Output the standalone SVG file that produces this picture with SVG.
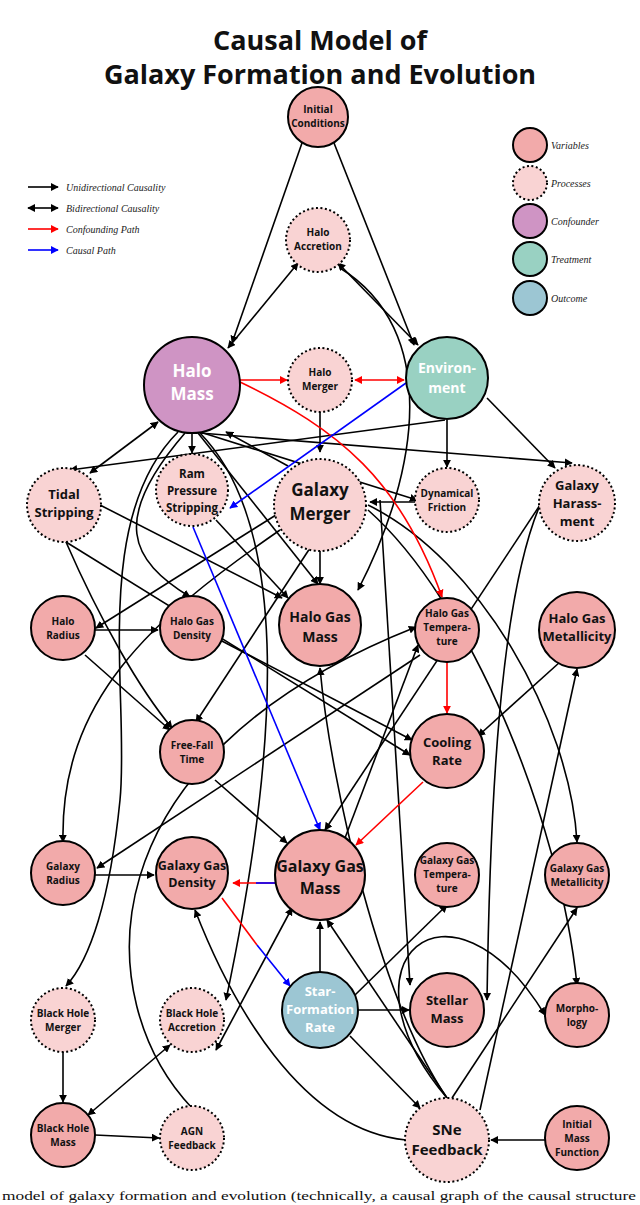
<svg xmlns="http://www.w3.org/2000/svg" width="640" height="1205" viewBox="0 0 640 1205">
<style>
.t{font-family:"Open Sans","Liberation Sans",sans-serif;font-weight:bold;text-anchor:middle;fill:#111}
.w{fill:#fff}
.v{fill:#f2aaaa;stroke:#000;stroke-width:2}
.p{fill:#f9d3d3;stroke:#000;stroke-width:2;stroke-dasharray:2 2.5}
.e{fill:none;stroke:#000;stroke-width:1.6;marker-end:url(#ak)}
.b{marker-start:url(#aks)}
.r{fill:none;stroke:#f00;stroke-width:1.6;marker-end:url(#ar)}
.u{fill:none;stroke:#00f;stroke-width:1.6;marker-end:url(#au)}
.lg{font-family:"Liberation Serif",serif;font-style:italic;font-size:10px;fill:#222}
</style>
<defs>
<marker id="ak" viewBox="0 0 10 10" refX="9" refY="5" markerWidth="5" markerHeight="5" orient="auto"><path d="M0,0L10,5L0,10z"/></marker>
<marker id="aks" viewBox="0 0 10 10" refX="1" refY="5" markerWidth="5" markerHeight="5" orient="auto"><path d="M10,0L0,5L10,10z"/></marker>
<marker id="ar" viewBox="0 0 10 10" refX="9" refY="5" markerWidth="5" markerHeight="5" orient="auto"><path d="M0,0L10,5L0,10z" fill="#f00"/></marker>
<marker id="ars" viewBox="0 0 10 10" refX="1" refY="5" markerWidth="5" markerHeight="5" orient="auto"><path d="M10,0L0,5L10,10z" fill="#f00"/></marker>
<marker id="au" viewBox="0 0 10 10" refX="9" refY="5" markerWidth="5" markerHeight="5" orient="auto"><path d="M0,0L10,5L0,10z" fill="#00f"/></marker>
</defs>
<rect width="640" height="1205" fill="#fff"/>
<text class="t" x="320" y="50" font-size="27">Causal Model of</text>
<text class="t" x="320" y="84" font-size="27">Galaxy Formation and Evolution</text>
<g id="legend">
<line x1="28" y1="187" x2="58" y2="187" class="e" stroke-width="1.2"/>
<line x1="28" y1="208" x2="58" y2="208" class="e b" stroke-width="1.2"/>
<line x1="28" y1="229" x2="58" y2="229" class="r" stroke-width="1.2"/>
<line x1="28" y1="250" x2="58" y2="250" class="u" stroke-width="1.2"/>
<text class="lg" x="66" y="191">Unidirectional Causality</text>
<text class="lg" x="66" y="212">Bidirectional Causality</text>
<text class="lg" x="66" y="233">Confounding Path</text>
<text class="lg" x="66" y="254">Causal Path</text>
<circle cx="530" cy="145" r="17" class="v"/>
<circle cx="530" cy="183" r="17" class="p"/>
<circle cx="530" cy="221" r="17" fill="#cf94c4" stroke="#000" stroke-width="2"/>
<circle cx="530" cy="259" r="17" fill="#99d1c2" stroke="#000" stroke-width="2"/>
<circle cx="530" cy="298" r="17" fill="#9cc6d3" stroke="#000" stroke-width="2"/>
<text class="lg" x="551" y="149">Variables</text>
<text class="lg" x="551" y="187">Processes</text>
<text class="lg" x="551" y="225">Confounder</text>
<text class="lg" x="551" y="263">Treatment</text>
<text class="lg" x="551" y="302">Outcome</text>
</g>
<g id="connectors">
<line class="e" x1="302" y1="143" x2="232" y2="343"/>
<line class="e" x1="334" y1="143" x2="414" y2="345"/>
<line class="e b" x1="298" y1="263" x2="228" y2="348"/>
<line class="e b" x1="338" y1="263" x2="418" y2="345"/>
<path class="e" d="M340,268 C440,330 420,470 358,590"/>
<line class="e b" x1="158" y1="422" x2="90" y2="473"/>
<line class="e" x1="445" y1="420" x2="70" y2="470"/>
<line class="e" x1="200" y1="433" x2="572" y2="463"/>
<line class="e" x1="192" y1="433" x2="192" y2="453"/>
<line class="e" x1="200" y1="432" x2="417" y2="500"/>
<line class="e" x1="447" y1="420" x2="447" y2="467"/>
<line class="e" x1="487" y1="398" x2="555" y2="468"/>
<line class="e" x1="320" y1="412" x2="320" y2="452"/>
<line class="e" x1="288" y1="466" x2="226" y2="432"/>
<line class="e" x1="415" y1="502" x2="370" y2="502"/>
<line class="e" x1="198" y1="433" x2="318" y2="584"/>
<path class="e" d="M200,433 C285,520 285,720 226,1000"/>
<path class="e" d="M185,433 C110,520 130,560 190,597"/>
<line class="e" x1="100" y1="505" x2="282" y2="598"/>
<path class="e" d="M66,542 C100,620 140,690 172,728"/>
<line class="e" x1="66" y1="542" x2="410" y2="755"/>
<line class="e" x1="216" y1="520" x2="288" y2="598"/>
<line class="e" x1="320" y1="547" x2="320" y2="584"/>
<line class="e" x1="276" y1="515" x2="96" y2="628"/>
<line class="e" x1="312" y1="545" x2="196" y2="722"/>
<path class="e" d="M368,505 C480,560 570,720 577,842"/>
<path class="e" d="M368,510 C470,600 560,820 577,985"/>
<path class="e" d="M540,505 C500,600 490,800 487,1000"/>
<line class="e" x1="95" y1="630" x2="158" y2="630"/>
<line class="e" x1="85" y1="655" x2="170" y2="730"/>
<line class="e" x1="540" y1="505" x2="325" y2="830"/>
<line class="e" x1="560" y1="662" x2="478" y2="736"/>
<line class="e" x1="220" y1="640" x2="412" y2="740"/>
<line class="e" x1="215" y1="780" x2="287" y2="843"/>
<line class="e" x1="95" y1="875" x2="154" y2="875"/>
<line class="e b" x1="216" y1="1050" x2="292" y2="908"/>
<line class="e" x1="320" y1="972" x2="320" y2="922"/>
<line class="e" x1="358" y1="1010" x2="409" y2="1010"/>
<line class="e" x1="350" y1="1036" x2="420" y2="1108"/>
<line class="e" x1="355" y1="995" x2="447" y2="905"/>
<line class="e" x1="447" y1="1098" x2="327" y2="920"/>
<path class="e" d="M406,1140 C300,1130 230,1000 195,910"/>
<path class="e" d="M447,1098 C380,1000 330,780 320,668"/>
<line class="e" x1="452" y1="1098" x2="577" y2="908"/>
<path class="e" d="M447,1098 C330,960 450,860 545,1015"/>
<line class="e" x1="480" y1="1110" x2="577" y2="669"/>
<line class="e" x1="545" y1="1140" x2="491" y2="1140"/>
<line class="e" x1="63" y1="1052" x2="63" y2="1102"/>
<line class="e b" x1="88" y1="1115" x2="170" y2="1045"/>
<line class="e" x1="95" y1="1135" x2="159" y2="1138"/>
<path class="e" d="M192,1108 C90,1000 80,760 416,627"/>
<path class="e" d="M178,432 C90,520 130,700 120,800 S90,960 66,986"/>
<path class="e" d="M280,530 C150,620 60,700 63,842"/>
<line class="e" x1="420" y1="655" x2="97" y2="868"/>
<line class="e" x1="380" y1="500" x2="410" y2="985"/>
<line class="e" x1="345" y1="838" x2="418" y2="645"/>
<path class="r" d="M240,380 L287,380"/>
<line class="r" x1="355" y1="380" x2="404" y2="380" marker-start="url(#ars)"/>
<path class="r" d="M240,382 C340,430 400,480 442,597"/>
<line class="r" x1="447" y1="662" x2="447" y2="713"/>
<line class="r" x1="423" y1="782" x2="356" y2="845"/>
<line class="r" x1="276" y1="883" x2="233" y2="883"/>
<line class="u" x1="406" y1="383" x2="230" y2="508"/>
<line class="u" x1="193" y1="527" x2="320" y2="830"/>
<line x1="276" y1="883" x2="256" y2="883" stroke="#00f" stroke-width="1.6"/>
<line x1="222" y1="898" x2="257" y2="945" stroke="#f00" stroke-width="1.6"/>
<line class="u" x1="257" y1="945" x2="290" y2="986"/>
</g>
<g id="n-ic"><circle cx="318" cy="117" r="30" class="v"/><text class="t" font-size="10" x="318" y="113">Initial</text><text class="t" font-size="10" x="318" y="127">Conditions</text></g>
<g id="n-ha"><circle cx="318" cy="240" r="32" class="p"/><text class="t" font-size="10" x="318" y="236">Halo</text><text class="t" font-size="10" x="318" y="250">Accretion</text></g>
<g id="n-hm"><circle cx="192" cy="385" r="48" fill="#cf94c4" stroke="#000" stroke-width="2"/><text class="t w" font-size="17" x="192" y="377">Halo</text><text class="t w" font-size="17" x="192" y="400">Mass</text></g>
<g id="n-hmg"><circle cx="320" cy="380" r="32" class="p"/><text class="t" font-size="10" x="320" y="376">Halo</text><text class="t" font-size="10" x="320" y="390">Merger</text></g>
<g id="n-env"><circle cx="447" cy="378" r="41" fill="#99d1c2" stroke="#000" stroke-width="2"/><text class="t w" font-size="14" x="447" y="373">Environ-</text><text class="t w" font-size="14" x="447" y="393">ment</text></g>
<g id="n-ts"><circle cx="64" cy="505" r="37" class="p"/><text class="t" font-size="13" x="64" y="499">Tidal</text><text class="t" font-size="13" x="64" y="517">Stripping</text></g>
<g id="n-rp"><circle cx="192" cy="490" r="36" class="p"/><text class="t" font-size="11.5" x="192" y="478">Ram</text><text class="t" font-size="11.5" x="192" y="495">Pressure</text><text class="t" font-size="11.5" x="192" y="512">Stripping</text></g>
<g id="n-gm"><circle cx="320" cy="505" r="46" class="p"/><text class="t" font-size="17" x="320" y="496">Galaxy</text><text class="t" font-size="17" x="320" y="520">Merger</text></g>
<g id="n-df"><circle cx="447" cy="500" r="32" class="p"/><text class="t" font-size="10" x="447" y="497">Dynamical</text><text class="t" font-size="10" x="447" y="511">Friction</text></g>
<g id="n-gh"><circle cx="577" cy="503" r="38" class="p"/><text class="t" font-size="13" x="577" y="490">Galaxy</text><text class="t" font-size="13" x="577" y="508">Harass-</text><text class="t" font-size="13" x="577" y="526">ment</text></g>
<g id="n-hr"><circle cx="63" cy="628" r="32" class="v"/><text class="t" font-size="10" x="63" y="625">Halo</text><text class="t" font-size="10" x="63" y="639">Radius</text></g>
<g id="n-hgd"><circle cx="192" cy="628" r="32" class="v"/><text class="t" font-size="10" x="192" y="625">Halo Gas</text><text class="t" font-size="10" x="192" y="639">Density</text></g>
<g id="n-hgm"><circle cx="320" cy="625" r="41" class="v"/><text class="t" font-size="14" x="320" y="622">Halo Gas</text><text class="t" font-size="14" x="320" y="642">Mass</text></g>
<g id="n-hgt"><circle cx="447" cy="630" r="32" class="v"/><text class="t" font-size="10" x="447" y="617">Halo Gas</text><text class="t" font-size="10" x="447" y="631">Tempera-</text><text class="t" font-size="10" x="447" y="645">ture</text></g>
<g id="n-hgz"><circle cx="577" cy="630" r="38" class="v"/><text class="t" font-size="13" x="577" y="623">Halo Gas</text><text class="t" font-size="13" x="577" y="641">Metallicity</text></g>
<g id="n-ff"><circle cx="192" cy="752" r="32" class="v"/><text class="t" font-size="10" x="192" y="749">Free-Fall</text><text class="t" font-size="10" x="192" y="763">Time</text></g>
<g id="n-cr"><circle cx="447" cy="751" r="37" class="v"/><text class="t" font-size="13" x="447" y="747">Cooling</text><text class="t" font-size="13" x="447" y="765">Rate</text></g>
<g id="n-gr"><circle cx="63" cy="873" r="32" class="v"/><text class="t" font-size="10" x="63" y="870">Galaxy</text><text class="t" font-size="10" x="63" y="884">Radius</text></g>
<g id="n-ggd"><circle cx="192" cy="873" r="36" class="v"/><text class="t" font-size="12.5" x="192" y="870">Galaxy Gas</text><text class="t" font-size="12.5" x="192" y="887">Density</text></g>
<g id="n-ggm"><circle cx="320" cy="875" r="45" class="v"/><text class="t" font-size="16" x="320" y="872">Galaxy Gas</text><text class="t" font-size="16" x="320" y="894">Mass</text></g>
<g id="n-ggt"><circle cx="447" cy="875" r="32" class="v"/><text class="t" font-size="10" x="447" y="864">Galaxy Gas</text><text class="t" font-size="10" x="447" y="878">Tempera-</text><text class="t" font-size="10" x="447" y="892">ture</text></g>
<g id="n-ggz"><circle cx="577" cy="875" r="32" class="v"/><text class="t" font-size="10" x="577" y="872">Galaxy Gas</text><text class="t" font-size="10" x="577" y="886">Metallicity</text></g>
<g id="n-bhm"><circle cx="63" cy="1020" r="32" class="p"/><text class="t" font-size="10" x="63" y="1017">Black Hole</text><text class="t" font-size="10" x="63" y="1031">Merger</text></g>
<g id="n-bha"><circle cx="192" cy="1020" r="32" class="p"/><text class="t" font-size="10" x="192" y="1017">Black Hole</text><text class="t" font-size="10" x="192" y="1031">Accretion</text></g>
<g id="n-sfr"><circle cx="320" cy="1010" r="38" fill="#9cc6d3" stroke="#000" stroke-width="2"/><text class="t w" font-size="13" x="320" y="996">Star-</text><text class="t w" font-size="13" x="320" y="1014">Formation</text><text class="t w" font-size="13" x="320" y="1032">Rate</text></g>
<g id="n-sm"><circle cx="447" cy="1010" r="37" class="v"/><text class="t" font-size="13" x="447" y="1005">Stellar</text><text class="t" font-size="13" x="447" y="1023">Mass</text></g>
<g id="n-mo"><circle cx="577" cy="1015" r="32" class="v"/><text class="t" font-size="10" x="577" y="1012">Morpho-</text><text class="t" font-size="10" x="577" y="1026">logy</text></g>
<g id="n-bhmass"><circle cx="63" cy="1135" r="32" class="v"/><text class="t" font-size="10" x="63" y="1132">Black Hole</text><text class="t" font-size="10" x="63" y="1146">Mass</text></g>
<g id="n-agn"><circle cx="192" cy="1138" r="32" class="p"/><text class="t" font-size="10" x="192" y="1135">AGN</text><text class="t" font-size="10" x="192" y="1149">Feedback</text></g>
<g id="n-sne"><circle cx="447" cy="1140" r="42" class="p"/><text class="t" font-size="15" x="447" y="1135">SNe</text><text class="t" font-size="15" x="447" y="1155">Feedback</text></g>
<g id="n-imf"><circle cx="577" cy="1138" r="32" class="v"/><text class="t" font-size="10" x="577" y="1128">Initial</text><text class="t" font-size="10" x="577" y="1142">Mass</text><text class="t" font-size="10" x="577" y="1156">Function</text></g>
<text x="2" y="1200" font-family="Liberation Serif,serif" font-size="12" fill="#111" textLength="634" lengthAdjust="spacingAndGlyphs">model of galaxy formation and evolution (technically, a causal graph of the causal structure</text>
</svg>
